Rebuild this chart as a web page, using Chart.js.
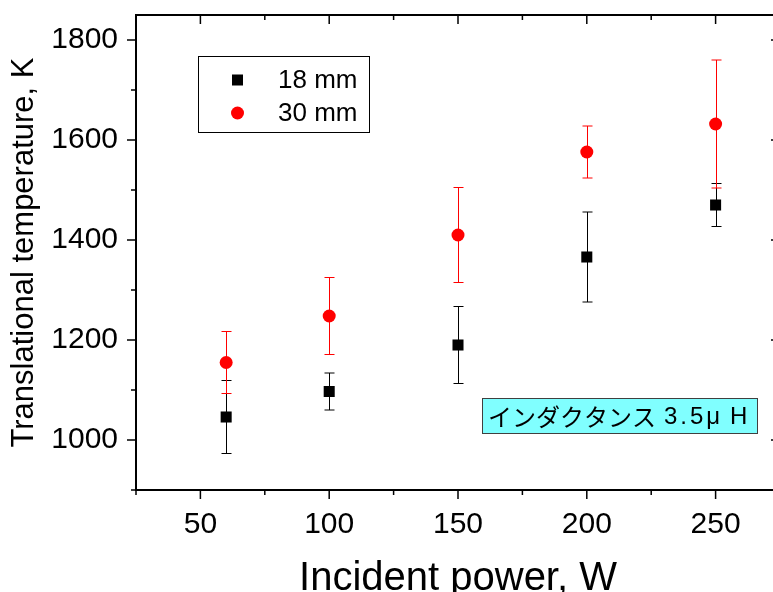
<!DOCTYPE html>
<html>
<head>
<meta charset="utf-8">
<script src="https://cdn.jsdelivr.net/npm/chart.js@4/dist/chart.umd.min.js"></script>
<style>
html, body { margin: 0; padding: 0; background: #fff; overflow: hidden; }
#wrap { position: absolute; left: 0; top: 0; width: 790px; height: 610px; }
</style>
</head>
<body>
<div id="wrap"><canvas id="tempChart"></canvas></div>
<script>
// incident power, W
const powers = [60, 100, 150, 200, 250];
// 18 mm
const temp18 = [1046, 1097, 1190, 1366, 1470];
const err18 = [73, 37, 77, 90, 43];
// 30 mm
const temp30 = [1155, 1248, 1410, 1576, 1632];
const err30 = [62, 77, 95, 52, 128];

const xTicks = [50, 100, 150, 200, 250];
const xMinor = [25, 75, 125, 175, 225, 275];
const yTicks = [1000, 1200, 1400, 1600, 1800];
const yMinor = [900, 1100, 1300, 1500, 1700];
const noteParts = ['インダクタンス', '3.5μ', 'H'];

const FONT = '"Liberation Sans", Arial, sans-serif';

function points(ys) {
    return powers.map((x, i) => ({ x: x, y: ys[i] }));
}

// error bars, drawn under the markers
const errorBars = {
    id: 'errorBars',
    beforeDatasetsDraw(chart) {
        const ctx = chart.ctx;
        const xs = chart.scales.x, ys = chart.scales.y;
        ctx.save();
        chart.data.datasets.forEach(ds => {
            ctx.strokeStyle = ds.borderColor;
            ctx.lineWidth = 1;
            ds.data.forEach((p, i) => {
                const e = ds.errors[i];
                const px = Math.round(xs.getPixelForValue(p.x)) + 0.5;
                const top = ys.getPixelForValue(p.y + e);
                const bot = ys.getPixelForValue(p.y - e);
                ctx.beginPath();
                ctx.moveTo(px, top); ctx.lineTo(px, bot);
                ctx.moveTo(px - 5, top); ctx.lineTo(px + 5, top);
                ctx.moveTo(px - 5, bot); ctx.lineTo(px + 5, bot);
                ctx.stroke();
            });
        });
        ctx.restore();
    }
};

// frame, ticks, legend box and note
const frame = {
    id: 'frame',
    afterDatasetsDraw(chart) {
        const ctx = chart.ctx;
        const a = chart.chartArea;
        const xs = chart.scales.x, ys = chart.scales.y;
        ctx.save();
        ctx.strokeStyle = '#000';
        ctx.lineWidth = 2;
        ctx.strokeRect(a.left, a.top, a.right - a.left, a.bottom - a.top);

        ctx.lineWidth = 1.5;
        ctx.beginPath();
        const xt = (v, len) => {
            const px = xs.getPixelForValue(v);
            ctx.moveTo(px, a.bottom); ctx.lineTo(px, a.bottom + len);
            ctx.moveTo(px, a.top); ctx.lineTo(px, a.top + len);
        };
        const yt = (v, len) => {
            const py = ys.getPixelForValue(v);
            ctx.moveTo(a.left, py); ctx.lineTo(a.left - len, py);
            ctx.moveTo(a.right, py); ctx.lineTo(a.right - len, py);
        };
        xTicks.forEach(v => xt(v, 9));
        xMinor.forEach(v => xt(v, 5));
        yTicks.forEach(v => yt(v, 9));
        yMinor.forEach(v => yt(v, 5));
        ctx.stroke();

        // legend
        ctx.lineWidth = 1;
        ctx.strokeRect(198.5, 56.5, 171, 76);
        ctx.font = '26px ' + FONT;
        ctx.textBaseline = 'middle';
        ctx.textAlign = 'left';
        chart.data.datasets.forEach((ds, i) => {
            const cy = 80 + i * 33;
            ctx.fillStyle = ds.backgroundColor;
            if (ds.pointStyle === 'rect') {
                ctx.fillRect(232, cy - 5.5, 11, 11);
            } else {
                ctx.beginPath();
                ctx.arc(237.5, cy, 6.5, 0, Math.PI * 2);
                ctx.fill();
            }
            ctx.fillStyle = '#000';
            ctx.fillText(ds.label, 278, cy + 1);
        });

        // note
        ctx.fillStyle = '#80ffff';
        ctx.fillRect(482.5, 398.5, 275, 35);
        ctx.strokeStyle = '#404040';
        ctx.strokeRect(482.5, 398.5, 275, 35);
        ctx.fillStyle = '#000';
        ctx.font = '24px "Noto Sans CJK JP", sans-serif';
        ctx.fillText(noteParts[0], 488, 417);
        ctx.font = '24px ' + FONT;
        ctx.letterSpacing = '3px';
        ctx.fillText(noteParts[1], 664, 417);
        ctx.letterSpacing = '0px';
        ctx.fillText(noteParts[2], 730, 417);
        ctx.restore();
    }
};

const ctx = document.getElementById('tempChart').getContext('2d');
new Chart(ctx, {
    type: 'scatter',
    data: {
        datasets: [{
            label: '18 mm',
            data: points(temp18),
            errors: err18,
            pointStyle: 'rect',
            pointRadius: 7.8,
            backgroundColor: '#000000',
            borderColor: '#000000',
            borderWidth: 0
        }, {
            label: '30 mm',
            data: points(temp30),
            errors: err30,
            pointStyle: 'circle',
            pointRadius: 6.5,
            backgroundColor: '#ff0000',
            borderColor: '#ff0000',
            borderWidth: 0
        }]
    },
    options: {
        responsive: true,
        maintainAspectRatio: false,
        animation: false,
        layout: { padding: { top: 15, right: 10, left: 0, bottom: 0 } },
        plugins: {
            legend: { display: false },
            tooltip: { enabled: false }
        },
        scales: {
            x: {
                type: 'linear',
                min: 25,
                max: 275,
                afterBuildTicks: s => { s.ticks = xTicks.map(v => ({ value: v })); },
                afterFit: s => { s.height = 120; s.paddingLeft = 0; s.paddingRight = 0; },
                grid: { display: false, drawTicks: false },
                border: { display: false },
                ticks: { color: '#000', padding: 17, font: { size: 30, family: FONT } },
                title: {
                    display: true,
                    text: 'Incident power, W',
                    color: '#000',
                    font: { size: 40, family: FONT },
                    padding: { top: 0, bottom: 7 }
                }
            },
            y: {
                min: 900,
                max: 1850,
                afterBuildTicks: s => { s.ticks = yTicks.map(v => ({ value: v })); },
                afterFit: s => { s.width = 136; s.paddingTop = 0; s.paddingBottom = 0; },
                grid: { display: false, drawTicks: false },
                border: { display: false },
                ticks: {
                    color: '#000',
                    padding: 18,
                    font: { size: 30, family: FONT },
                    callback: v => String(v)
                },
                title: {
                    display: true,
                    text: 'Translational temperature, K',
                    color: '#000',
                    font: { size: 31, family: FONT },
                    padding: { top: 6, bottom: 0 }
                }
            }
        }
    },
    plugins: [errorBars, frame]
});
</script>
</body>
</html>
